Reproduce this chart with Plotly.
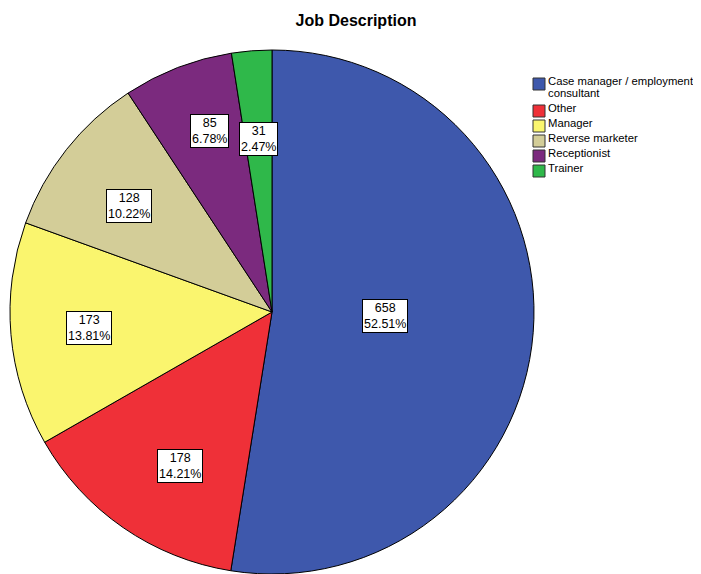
import math
import plotly.graph_objects as go

categories = ["Case manager / employment consultant", "Other", "Manager",
              "Reverse marketer", "Receptionist", "Trainer"]
legend_lines = [["Case manager / employment", "consultant"], ["Other"], ["Manager"],
                ["Reverse marketer"], ["Receptionist"], ["Trainer"]]
counts = [658, 178, 173, 128, 85, 31]
percents = [52.51, 14.21, 13.81, 10.22, 6.78, 2.47]

colors = ["#3E58AC", "#EF3038", "#FAF56E", "#D3CD98", "#7B2A7E", "#2FB84A"]
# label placement (fraction of radius, angular nudge in degrees)
label_radius = [0.432, 0.685, 0.702, 0.679, 0.730, 0.663]
label_nudge = [-2.5, -3.8, 0.0, -1.7, 2.2, 0.0]

# page body has an 8px margin; figure is sized to fit the window
OFF = 8
W, H = 701 - OFF, 574 - OFF
# pie box in window pixels
PX0, PX1, PY0, PY1 = 10, 534, 50, 574
CX, CY = (PX0 + PX1) / 2, (PY0 + PY1) / 2
R = (PX1 - PX0) / 2


def px(x):
    return (x - OFF) / W


def py(y):
    return 1 - (y - OFF) / H


fig = go.Figure(go.Pie(
    labels=categories,
    values=counts,
    sort=False,
    direction="clockwise",
    rotation=0,
    textinfo="none",
    domain=dict(x=[px(PX0), px(PX1)], y=[max(0, py(PY1)), py(PY0)]),
    marker=dict(colors=colors, line=dict(color="black", width=1)),
    hoverinfo="label+value+percent",
    showlegend=False,
))

total = sum(counts)
annotations = []
shapes = []
cum = 0
for i, v in enumerate(counts):
    mid = (cum + v / 2) / total
    cum += v
    ang = 2 * math.pi * mid + math.radians(label_nudge[i])
    dx = label_radius[i] * R * math.sin(ang)
    dy = -label_radius[i] * R * math.cos(ang)
    annotations.append(dict(
        x=px(CX + dx), y=py(CY + dy), xref="paper", yref="paper",
        xanchor="center", yanchor="middle",
        text=f"{v}<br>{percents[i]:.2f}%", showarrow=False,
        font=dict(family="Arial", size=12.5, color="black"),
        bgcolor="white", bordercolor="black", borderwidth=1, borderpad=1,
        align="center",
    ))

# manual legend (SPSS style): small squares with text
LX, LY, ROW, LINE, SQ = 533, 78, 15, 12, 12
y = LY
for i, lines in enumerate(legend_lines):
    shapes.append(dict(type="rect", xref="paper", yref="paper",
                       x0=px(LX), x1=px(LX + SQ), y0=py(y), y1=py(y + SQ),
                       fillcolor=colors[i], line=dict(color="#333333", width=1)))
    for j, t in enumerate(lines):
        annotations.append(dict(
            x=px(LX + SQ + 1), y=py(y + 3 + j * LINE), xref="paper", yref="paper",
            xanchor="left", yanchor="middle", text=t, showarrow=False,
            font=dict(family="Arial", size=11.3, color="black"),
        ))
    y += ROW + (len(lines) - 1) * LINE

fig.update_layout(
    width=W, height=H,
    margin=dict(l=0, r=0, t=0, b=0),
    paper_bgcolor="white",
    showlegend=False,
    title=dict(text="<b>Job Description</b>", x=(356 - OFF) / W, xref="container",
               xanchor="center", y=1 - (20 - OFF) / H, yref="container", yanchor="middle",
               font=dict(family="Arial", size=16, color="black")),
    annotations=annotations,
    shapes=shapes,
)

fig.write_html("out.html")
